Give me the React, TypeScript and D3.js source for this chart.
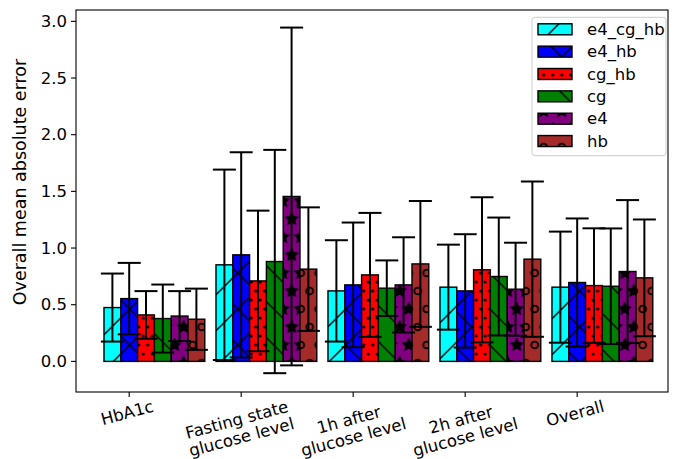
import React from "react";
import * as d3 from "d3";

const categories = ["HbA1c", "Fasting state\nglucose level", "1h after\nglucose level", "2h after\nglucose level", "Overall"];
const seriesNames = ["e4_cg_hb", "e4_hb", "cg_hb", "cg", "e4", "hb"];
const seriesColors = ["#00ffff", "#0000ff", "#ff0000", "#008000", "#800080", "#a52a2a"];
const seriesHatches = ["/", "x", "..", "\\", "*", "o"];

const e4_cg_hb = [0.475, 0.852, 0.622, 0.655, 0.655];
const e4_hb = [0.554, 0.94, 0.675, 0.622, 0.696];
const cg_hb = [0.41, 0.71, 0.763, 0.808, 0.669];
const cg = [0.378, 0.881, 0.646, 0.749, 0.663];
const e4 = [0.40, 1.455, 0.675, 0.637, 0.793];
const hb = [0.372, 0.814, 0.86, 0.902, 0.737];

const e4_cg_hb_err = [0.30, 0.84, 0.447, 0.375, 0.49];
const e4_hb_err = [0.315, 0.905, 0.55, 0.50, 0.565];
const cg_hb_err = [0.21, 0.62, 0.547, 0.64, 0.505];
const cg_err = [0.30, 0.985, 0.245, 0.52, 0.51];
const e4_err = [0.22, 1.49, 0.42, 0.41, 0.63];
const hb_err = [0.27, 0.545, 0.555, 0.685, 0.515];

const yTicks = [0, 0.5, 1.0, 1.5, 2.0, 2.5, 3.0];

const seriesValues = [e4_cg_hb, e4_hb, cg_hb, cg, e4, hb];
const seriesErrors = [e4_cg_hb_err, e4_hb_err, cg_hb_err, cg_err, e4_err, hb_err];

const W = 675;
const H = 459;
const FONT = '"DejaVu Sans", sans-serif';
const FS = 16.5;
const FS_Y = 17.5;
const U = 108; // hatch tile
const X0 = 3.7;
const Y0 = 3;
const HLW = 1.4;

let ctx: CanvasRenderingContext2D | null = null;
function measure(s: string, size: number) {
  if (!ctx) ctx = document.createElement("canvas").getContext("2d");
  if (!ctx) return s.length * size * 0.6;
  ctx.font = `${size}px "DejaVu Sans"`;
  return ctx.measureText(s).width;
}

function lattice(n: number) {
  const o = U / n;
  const pts: [number, number][] = [];
  for (let i = 0; i <= n; i++) {
    const yy = i * o;
    if (i % 2 === 0) {
      for (let j = 0; j <= n; j++) pts.push([j * o, yy]);
    } else {
      for (let j = 0; j < n; j++) pts.push([o / 2 + j * o, yy]);
    }
  }
  return { pts, o };
}

function starPath(cx: number, cy: number, r: number) {
  const p: string[] = [];
  for (let k = 0; k < 10; k++) {
    const a = -Math.PI / 2 + (k * Math.PI) / 5;
    const rr = k % 2 === 0 ? r : r * 0.5;
    p.push(`${(cx + rr * Math.cos(a)).toFixed(2)},${(cy + rr * Math.sin(a)).toFixed(2)}`);
  }
  return "M" + p.join("L") + "Z";
}

function HatchPattern({ id, color, hatch }: { id: string; color: string; hatch: string }) {
  const items: React.ReactNode[] = [];
  const sp = U / 3;
  if (hatch.includes("/") || hatch.includes("x")) {
    for (let c = 0; c <= 2 * U; c += sp) {
      items.push(<line key={"a" + c} x1={c + 5} y1={-5} x2={c - U - 5} y2={U + 5} stroke="#000" strokeWidth={HLW} />);
    }
  }
  if (hatch.includes("\\") || hatch.includes("x")) {
    for (let c = -U; c <= U; c += sp) {
      items.push(<line key={"b" + c} x1={c - 5} y1={-5} x2={c + U + 5} y2={U + 5} stroke="#000" strokeWidth={HLW} />);
    }
  }
  if (hatch === "..") {
    const { pts, o } = lattice(12);
    pts.forEach(([px, py], k) => items.push(<circle key={"d" + k} cx={px} cy={py} r={0.1 * o} fill="#000" stroke="#000" strokeWidth={HLW} />));
  }
  if (hatch === "*") {
    const { pts, o } = lattice(6);
    pts.forEach(([px, py], k) => items.push(<path key={"s" + k} d={starPath(px, py, o / 3)} fill="#000" stroke="#000" strokeWidth={HLW} strokeLinejoin="miter" />));
  }
  if (hatch === "o") {
    const { pts, o } = lattice(6);
    pts.forEach(([px, py], k) => items.push(<circle key={"o" + k} cx={px} cy={py} r={0.2 * o * 0.95} fill="none" stroke="#000" strokeWidth={HLW + 0.4} />));
  }
  return (
    <pattern id={id} patternUnits="userSpaceOnUse" x={X0} y={Y0} width={U} height={U}>
      <rect x={0} y={0} width={U} height={U} fill={color} />
      {items}
    </pattern>
  );
}

export default function App() {
  const left = 76, right = 668, top = 10, bottom = 392;
  const x = d3.scaleLinear().domain([-0.25, 5.036]).range([left, right]);
  const y = d3.scaleLinear().domain([-0.27, 3.1]).range([bottom, top]);
  const bw = 0.15;
  const tickPos = categories.map((_, i) => i + 1.5 * bw);

  const bars: React.ReactNode[] = [];
  const errs: React.ReactNode[] = [];
  seriesValues.forEach((vals, s) => {
    vals.forEach((v, i) => {
      const x0 = x(i + s * bw);
      const x1 = x(i + (s + 1) * bw);
      bars.push(
        <rect key={`b${s}-${i}`} x={x0} y={y(v)} width={x1 - x0} height={y(0) - y(v)} fill={`url(#hp${s})`} stroke="#000" strokeWidth={1.4} />
      );
      const cx = (x0 + x1) / 2;
      const e = seriesErrors[s][i];
      const yt = y(v + e);
      const yb = y(v - e);
      errs.push(
        <g key={`e${s}-${i}`} stroke="#000" strokeWidth={2}>
          <line x1={cx} x2={cx} y1={yb} y2={yt} />
          <line x1={cx - 11.5} x2={cx + 11.5} y1={yt} y2={yt} />
          <line x1={cx - 11.5} x2={cx + 11.5} y1={yb} y2={yb} />
        </g>
      );
    });
  });

  const rot = (15 * Math.PI) / 180;
  const lh = 18;
  const xLabels = categories.map((c, i) => {
    const lines = c.split("\n");
    const w = Math.max(...lines.map((l) => measure(l, FS)));
    const h = (lines.length - 1) * lh + FS;
    const bh = w * Math.sin(rot) + h * Math.cos(rot);
    const cx = x(tickPos[i]) - 2;
    const cy = bottom + 6 + bh / 2;
    return (
      <g key={"xl" + i} transform={`translate(${cx},${cy}) rotate(-15)`}>
        {lines.map((l, k) => (
          <text key={k} x={0} y={(k - (lines.length - 1) / 2) * lh} textAnchor="middle" dominantBaseline="central" fontSize={FS} fontFamily={FONT} fill="#000">
            {l}
          </text>
        ))}
      </g>
    );
  });

  const legendRowY = (k: number) => 29.3 + k * 22.35;

  return (
    <svg width={W} height={H} style={{ position: "absolute", left: 0, top: 0 }} xmlns="http://www.w3.org/2000/svg">
      <defs>
        {seriesNames.map((n, s) => (
          <HatchPattern key={n} id={`hp${s}`} color={seriesColors[s]} hatch={seriesHatches[s]} />
        ))}
      </defs>
      <rect x={0} y={0} width={W} height={H} fill="#fff" />
      {bars}
      {errs}
      <rect x={left} y={top} width={right - left} height={bottom - top} fill="none" stroke="#000" strokeWidth={1.1} />
      {yTicks.map((t) => (
        <g key={"yt" + t}>
          <line x1={left - 5} x2={left} y1={y(t)} y2={y(t)} stroke="#000" strokeWidth={1.1} />
          <text x={left - 9} y={y(t)} textAnchor="end" dominantBaseline="central" fontSize={FS} fontFamily={FONT}>
            {t.toFixed(1)}
          </text>
        </g>
      ))}
      {tickPos.map((t, i) => (
        <line key={"xt" + i} x1={x(t)} x2={x(t)} y1={bottom} y2={bottom + 5} stroke="#000" strokeWidth={1.1} />
      ))}
      {xLabels}
      <text transform={`translate(20,182) rotate(-90)`} textAnchor="middle" dominantBaseline="central" fontSize={FS_Y} fontFamily={FONT}>
        Overall mean absolute error
      </text>
      <g>
        <rect x={532} y={17.3} width={134} height={138.4} rx={3} fill="#fff" fillOpacity={0.8} stroke="#cccccc" strokeWidth={1} />
        {seriesNames.map((n, k) => (
          <g key={"lg" + n}>
            <rect x={538} y={legendRowY(k) - 5.5} width={34} height={11} fill={`url(#hp${k})`} stroke="#000" strokeWidth={1.4} />
            <text x={587} y={legendRowY(k)} dominantBaseline="central" fontSize={FS} fontFamily={FONT}>
              {n}
            </text>
          </g>
        ))}
      </g>
    </svg>
  );
}
